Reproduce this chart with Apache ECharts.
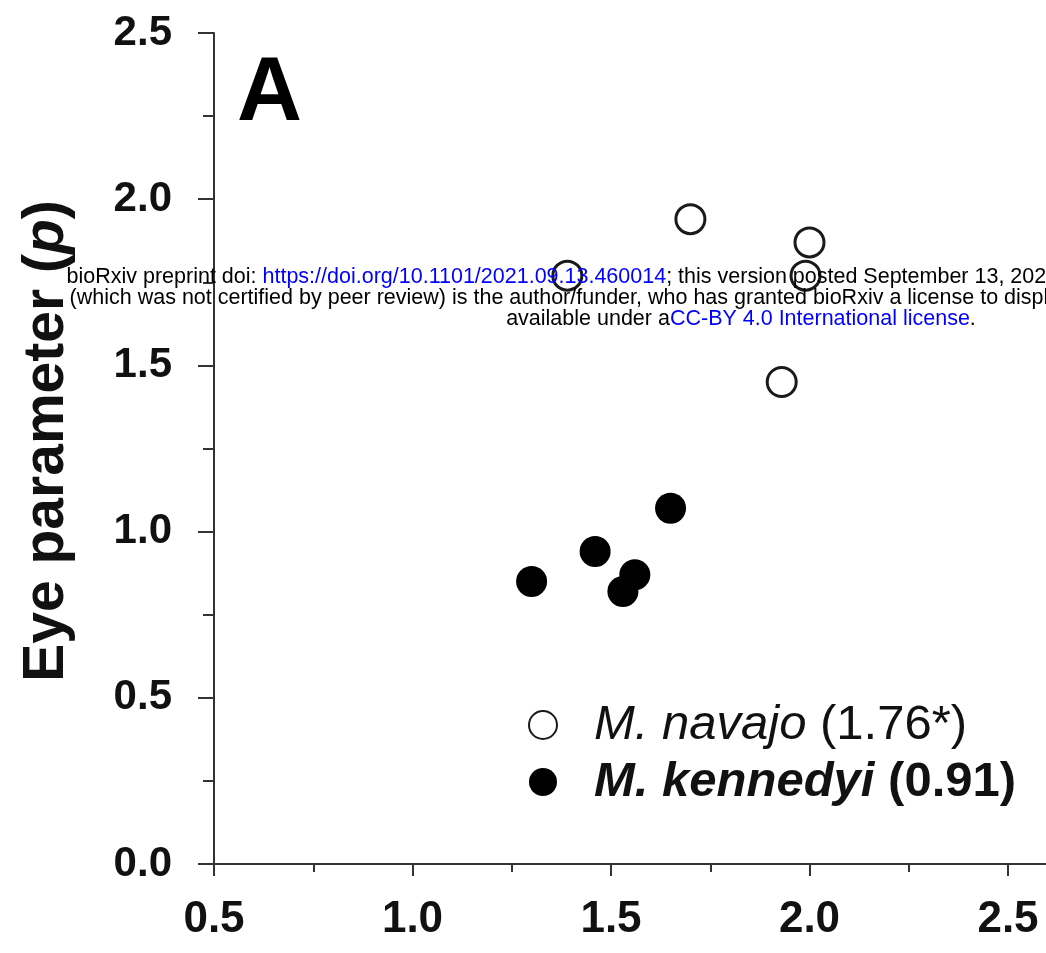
<!DOCTYPE html>
<html>
<head>
<meta charset="utf-8">
<script src="https://cdn.jsdelivr.net/npm/echarts@6/dist/echarts.min.js"></script>
<style>
html,body{margin:0;padding:0;background:#fff;}
#c{width:1046px;height:953px;}
</style>
</head>
<body>
<div id="c"></div>
<script>
// ---- data ----
var seriesNames = ['M. navajo', 'M. kennedyi'];
var legendValues = ['(1.76*)', '(0.91)'];
var navajoX = [1.70, 2.00, 1.39, 1.99, 1.93];
var navajoY = [1.94, 1.87, 1.77, 1.77, 1.45];
var kennedyiX = [1.65, 1.46, 1.56, 1.53, 1.30];
var kennedyiY = [1.07, 0.94, 0.87, 0.82, 0.85];
var xTickLabels = ['0.5', '1.0', '1.5', '2.0', '2.5'];
var yTickLabels = ['0.0', '0.5', '1.0', '1.5', '2.0', '2.5'];
var yTitle = 'Eye parameter';
var panelLabel = 'A';

var FONT = 'Liberation Sans, Arial, Helvetica, sans-serif';
var INK = '#111';
var AXIS = '#333';

function pairs(xs, ys) { return xs.map(function (x, i) { return [x, ys[i]]; }); }

var chart = echarts.init(document.getElementById('c'));
var option = {
  backgroundColor: '#fff',
  animation: false,
  grid: { left: 214, top: 33, bottom: 89, right: -160.5, containLabel: false, outerBoundsMode: 'none' },
  xAxis: {
    type: 'value', min: 0.5, max: 3.0, interval: 0.5,
    axisLine: { show: true, onZero: false, lineStyle: { color: AXIS, width: 2 } },
    axisTick: { show: true, inside: false, length: 12, lineStyle: { color: AXIS, width: 2 } },
    minorTick: { show: true, splitNumber: 2, length: 8, lineStyle: { color: AXIS, width: 2 } },
    splitLine: { show: false },
    axisLabel: {
      show: true, margin: 34, showMaxLabel: false,
      color: INK, fontSize: 44, fontWeight: 'bold', fontFamily: FONT,
      formatter: function (v) {
        var i = Math.round((v - 0.5) / 0.5);
        return xTickLabels[i] !== undefined ? xTickLabels[i] : '';
      }
    }
  },
  yAxis: {
    type: 'value', min: 0, max: 2.5, interval: 0.5,
    axisLine: { show: true, onZero: false, lineStyle: { color: AXIS, width: 2 } },
    axisTick: { show: true, inside: false, length: 16, lineStyle: { color: AXIS, width: 2 } },
    minorTick: { show: true, splitNumber: 2, length: 11, lineStyle: { color: AXIS, width: 2 } },
    splitLine: { show: false },
    axisLabel: {
      show: true, margin: 42,
      color: INK, fontSize: 42, fontWeight: 'bold', fontFamily: FONT,
      formatter: function (v) {
        var i = Math.round(v / 0.5);
        return yTickLabels[i] !== undefined ? yTickLabels[i] : '';
      }
    }
  },
  legend: {
    show: true, orient: 'vertical', left: 523, top: 695,
    itemWidth: 92, itemHeight: 28, itemGap: 7,
    data: seriesNames,
    formatter: function (name) {
      var i = seriesNames.indexOf(name);
      if (i === 0) return '{i|' + name + '} {n|' + legendValues[0] + '}';
      return '{bi|' + name + '} {b|' + legendValues[1] + '}';
    },
    textStyle: {
      fontSize: 49, lineHeight: 50, fontFamily: FONT, color: INK,
      rich: {
        i: { fontSize: 49, lineHeight: 50, fontFamily: FONT, fontStyle: 'italic', fontWeight: 'normal', color: INK },
        n: { fontSize: 49, lineHeight: 50, fontFamily: FONT, fontStyle: 'normal', fontWeight: 'normal', color: INK },
        bi: { fontSize: 49, lineHeight: 50, fontFamily: FONT, fontStyle: 'italic', fontWeight: 'bold', color: INK },
        b: { fontSize: 49, lineHeight: 50, fontFamily: FONT, fontStyle: 'normal', fontWeight: 'bold', color: INK }
      }
    }
  },
  series: [
    {
      name: seriesNames[0], type: 'scatter', symbol: 'circle', symbolSize: 29,
      data: pairs(navajoX, navajoY),
      itemStyle: { color: '#fff', borderColor: '#1a1a1a', borderWidth: 3, opacity: 1 },
      z: 3
    },
    {
      name: seriesNames[1], type: 'scatter', symbol: 'circle', symbolSize: 31,
      data: pairs(kennedyiX, kennedyiY),
      itemStyle: { color: '#000', borderWidth: 0, opacity: 1 },
      z: 4
    }
  ],
  graphic: [
    {
      type: 'text', x: 47, y: 441, rotation: Math.PI / 2, z: 50,
      style: {
        text: yTitle + ' ({p|p})',
        fontSize: 57, fontWeight: 'bold', fontFamily: FONT, fill: INK,
        align: 'center', verticalAlign: 'middle',
        rich: { p: { fontSize: 57, fontWeight: 'bold', fontStyle: 'italic', fontFamily: FONT, fill: INK } }
      }
    },
    {
      type: 'text', x: 237, y: 95, z: 50,
      style: { text: panelLabel, fontSize: 90, fontWeight: 'bold', fontFamily: FONT, fill: '#000', align: 'left', verticalAlign: 'middle' }
    },
    {
      type: 'text', x: 741, y: 277, z: 200,
      style: {
        text: 'bioRxiv preprint doi: {u|https://doi.org/10.1101/2021.09.13.460014}; this version posted September 13, 2021. The copyright holder for this preprint',
        fontSize: 21.5, fontFamily: FONT, fill: '#000', align: 'center', verticalAlign: 'middle',
        rich: { u: { fontSize: 21.5, fontFamily: FONT, fill: '#0000ff' } }
      }
    },
    {
      type: 'text', x: 741, y: 298, z: 200,
      style: {
        text: '(which was not certified by peer review) is the author/funder, who has granted bioRxiv a license to display the preprint in perpetuity. It is made',
        fontSize: 21.5, fontFamily: FONT, fill: '#000', align: 'center', verticalAlign: 'middle'
      }
    },
    {
      type: 'text', x: 741, y: 319, z: 200,
      style: {
        text: 'available under a{u|CC-BY 4.0 International license}.',
        fontSize: 21.5, fontFamily: FONT, fill: '#000', align: 'center', verticalAlign: 'middle',
        rich: { u: { fontSize: 21.5, fontFamily: FONT, fill: '#0000ff' } }
      }
    }
  ]
};
chart.setOption(option);
</script>
</body>
</html>
